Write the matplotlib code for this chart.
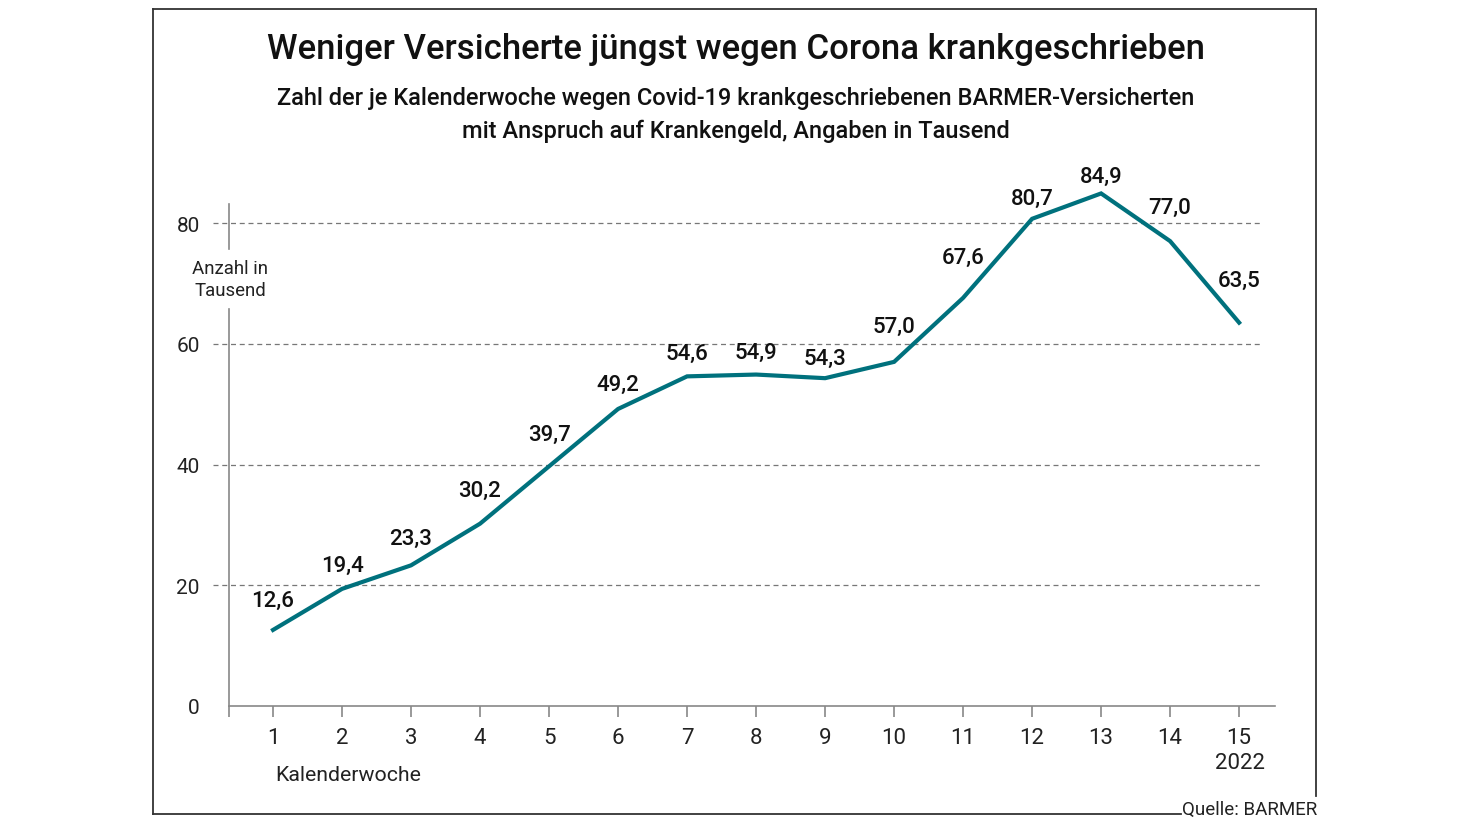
import matplotlib
matplotlib.use("Agg")
import matplotlib.pyplot as plt
from matplotlib.lines import Line2D
import matplotlib.transforms as mtransforms

weeks = list(range(1, 16))
values = [12.6, 19.4, 23.3, 30.2, 39.7, 49.2, 54.6, 54.9, 54.3, 57.0, 67.6, 80.7, 84.9, 77.0, 63.5]
yticks = [0, 20, 40, 60, 80]

title = "Weniger Versicherte jüngst wegen Corona krankgeschrieben"
subtitle = ("Zahl der je Kalenderwoche wegen Covid-19 krankgeschriebenen BARMER-Versicherten\n"
            "mit Anspruch auf Krankengeld, Angaben in Tausend")
ylabel = "Anzahl in\nTausend"
xlabel = "Kalenderwoche"
year_label = "2022"
source = "Quelle: BARMER"

# label offsets above points (pixels)
label_offsets = [29, 23, 26, 32, 31, 24, 22, 22, 19, 35, 39, 20, 17, 33, 41]

FONT = "Roboto"
plt.rcParams['font.family'] = [FONT, 'DejaVu Sans']

W, H = 1472, 828
fig = plt.figure(figsize=(W / 100, H / 100), dpi=100)
fig.patch.set_facecolor("white")

def fx(px):
    return px / W

def fy(py):
    return 1 - py / H

ax = fig.add_axes([fx(229), fy(707), fx(1275) - fx(229), fy(204.7) - fy(707)])
ax.set_xlim(0.362, 15.52)
ax.set_ylim(0, 83.2)

line_color = "#00717d"
ax.plot(weeks, values, color=line_color, lw=3.0, solid_joinstyle="miter", zorder=3, clip_on=False)

# gridlines
trans = mtransforms.blended_transform_factory(ax.transAxes, ax.transData)
x0 = (213 - 229) / 1046
x1 = (1262 - 229) / 1046
for yv in yticks[1:]:
    ax.add_line(Line2D([x0, x1], [yv, yv], transform=trans, color="#777777",
                       lw=0.9, ls=(0, (4, 3)), clip_on=False, zorder=1))

# y spine with gap
for spine in ["left", "top", "right"]:
    ax.spines[spine].set_visible(False)
ax.spines["bottom"].set_color("#888888")
ax.spines["bottom"].set_linewidth(1.2)
ax.add_line(Line2D([0, 0], [0, 65.8], transform=trans, color="#888888", lw=1.2, clip_on=False))
ax.add_line(Line2D([0, 0], [75.7, 83.2], transform=trans, color="#888888", lw=1.2, clip_on=False))

ax.set_yticks(yticks)
ax.set_yticklabels([str(v) for v in yticks])
ax.tick_params(axis="y", length=0, pad=21, labelsize=15, labelcolor="#222222")
ax.set_xticks(weeks)
ax.set_xticklabels([str(w) for w in weeks])
ax.set_xticks([0.362], minor=True)
ax.tick_params(axis="x", which="both", length=8, width=1.2, color="#888888", direction="out",
               pad=7, labelsize=16, labelcolor="#222222")

for w, v, off in zip(weeks, values, label_offsets):
    ax.annotate(f"{v:.1f}".replace(".", ","), (w, v), xytext=(0, off * 0.74),
                textcoords="offset points", ha="center", va="center",
                fontsize=16, fontweight="medium", color="#111111", zorder=4,
                annotation_clip=False)

fig.text(fx(230), fy(280), ylabel, ha="center", va="center", fontsize=13.4, color="#222222",
         linespacing=1.35)
fig.text(fx(275), fy(776), xlabel, ha="left", va="center", fontsize=15.3, color="#222222")
fig.text(fx(1240), fy(764), year_label, ha="center", va="center", fontsize=16, color="#222222")

fig.text(0.5, fy(49), title, ha="center", va="center", fontsize=25, fontweight="medium",
         color="#111111")
fig.text(0.5, fy(115), subtitle, ha="center", va="center", fontsize=17, fontweight="medium",
         color="#111111", linespacing=1.5)

# frame
fig.add_artist(Line2D([fx(153), fx(153)], [fy(10), fy(815)], color="#333333", lw=1.3))
fig.add_artist(Line2D([fx(153), fx(1316)], [fy(10), fy(10)], color="#333333", lw=1.3))
fig.add_artist(Line2D([fx(1316), fx(1316)], [fy(10), fy(797)], color="#333333", lw=1.3))
fig.add_artist(Line2D([fx(153), fx(1181)], [fy(815), fy(815)], color="#333333", lw=1.3))
fig.text(fx(1317), fy(810), source, ha="right", va="center", fontsize=13.5, color="#222222")

fig.savefig("out.png", dpi=100)
